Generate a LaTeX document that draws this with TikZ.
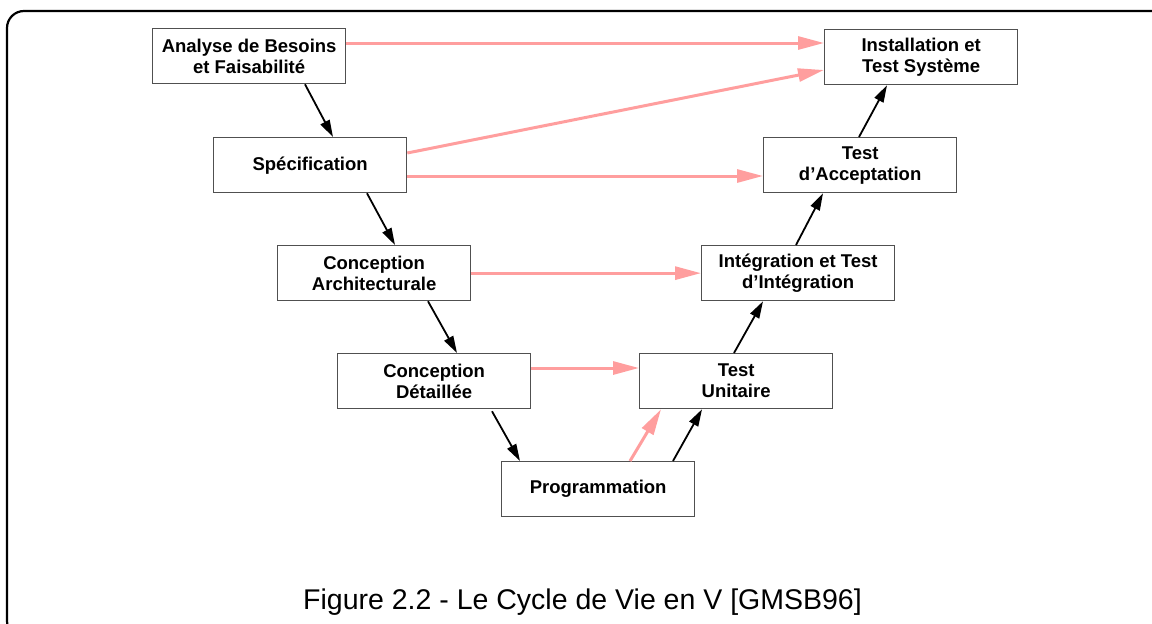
\documentclass[tikz,border=0pt]{standalone}
\usepackage{fontspec}
\setmainfont{Liberation Sans}
\usetikzlibrary{arrows.meta}
\definecolor{pinkarrow}{RGB}{255,158,158}
\definecolor{boxline}{RGB}{80,80,80}
\tikzset{
  stage/.style={draw=boxline, line width=1.3pt, fill=white, anchor=north west,
    minimum width=193pt, minimum height=55pt, inner sep=0pt, align=center,
    font=\fontsize{18.5pt}{21pt}\selectfont\bfseries},
  flow/.style={draw=black, line width=1.8pt, -{Triangle[length=17pt,width=10pt]}},
  link/.style={draw=pinkarrow, line width=3pt, -{Triangle[length=26pt,width=13pt]}},
  frame/.style={draw=black, line width=2.2pt, rounded corners=17pt}
}
\begin{document}
\begin{tikzpicture}[x=1pt,y=-1pt]
\useasboundingbox (0,0) rectangle (1152,624);
\begin{scope}
\clip (0,0) rectangle (1152,624);
\draw[frame] (7,11) rectangle (1175,638);
\end{scope}

\node[stage] (ana) at (152,28) {Analyse de Besoins\\et Faisabilité};
\node[stage] (spec) at (213,137) {Spécification};
\node[stage] (carch) at (277,245) {Conception\\Architecturale};
\node[stage] (cdet) at (337,353) {Conception\\Détaillée};
\node[stage] (prog) at (501,461) {Programmation};
\node[stage] (tu) at (639,353) {Test\\Unitaire};
\node[stage] (integ) at (701,245) {Intégration et Test\\d’Intégration};
\node[stage] (accept) at (763,137) {Test\\d’Acceptation};
\node[stage] (inst) at (824,29) {Installation et\\Test Système};

% descending branch
\draw[flow] ([xshift=153pt]ana.south west) -- ([xshift=120pt]spec.north west);
\draw[flow] ([xshift=154pt]spec.south west) -- ([xshift=118pt]carch.north west);
\draw[flow] ([xshift=151pt]carch.south west) -- ([xshift=120pt]cdet.north west);
\draw[flow] ([xshift=155pt,yshift=-2pt]cdet.south west) -- ([xshift=19pt]prog.north west);
% ascending branch
\draw[flow] ([xshift=172pt]prog.north west) -- ([xshift=63pt]tu.south west);
\draw[flow] ([xshift=95pt]tu.north west) -- ([xshift=62pt]integ.south west);
\draw[flow] ([xshift=95pt]integ.north west) -- ([xshift=60pt]accept.south west);
\draw[flow] ([xshift=96pt]accept.north west) -- ([xshift=63pt]inst.south west);

% verification links
\draw[link] ([yshift=-15pt]ana.north east) -- ([yshift=-14pt]inst.north west);
\draw[link] ([yshift=-16pt]spec.north east) -- ([yshift=-41pt]inst.north west);
\draw[link] ([yshift=-39pt]spec.north east) -- ([yshift=-39pt]accept.north west);
\draw[link] (carch.east) -- (integ.west);
\draw[link] ([yshift=-15pt]cdet.north east) -- ([yshift=-15pt]tu.north west);
\draw[link] ([xshift=129pt]prog.north west) -- ([xshift=22pt]tu.south west);

\node[anchor=base, font=\fontsize{28.5pt}{34pt}\selectfont] (caption) at (582.5,609)
  {Figure 2.2 - Le Cycle de Vie en V [GMSB96]};
\end{tikzpicture}
\end{document}
